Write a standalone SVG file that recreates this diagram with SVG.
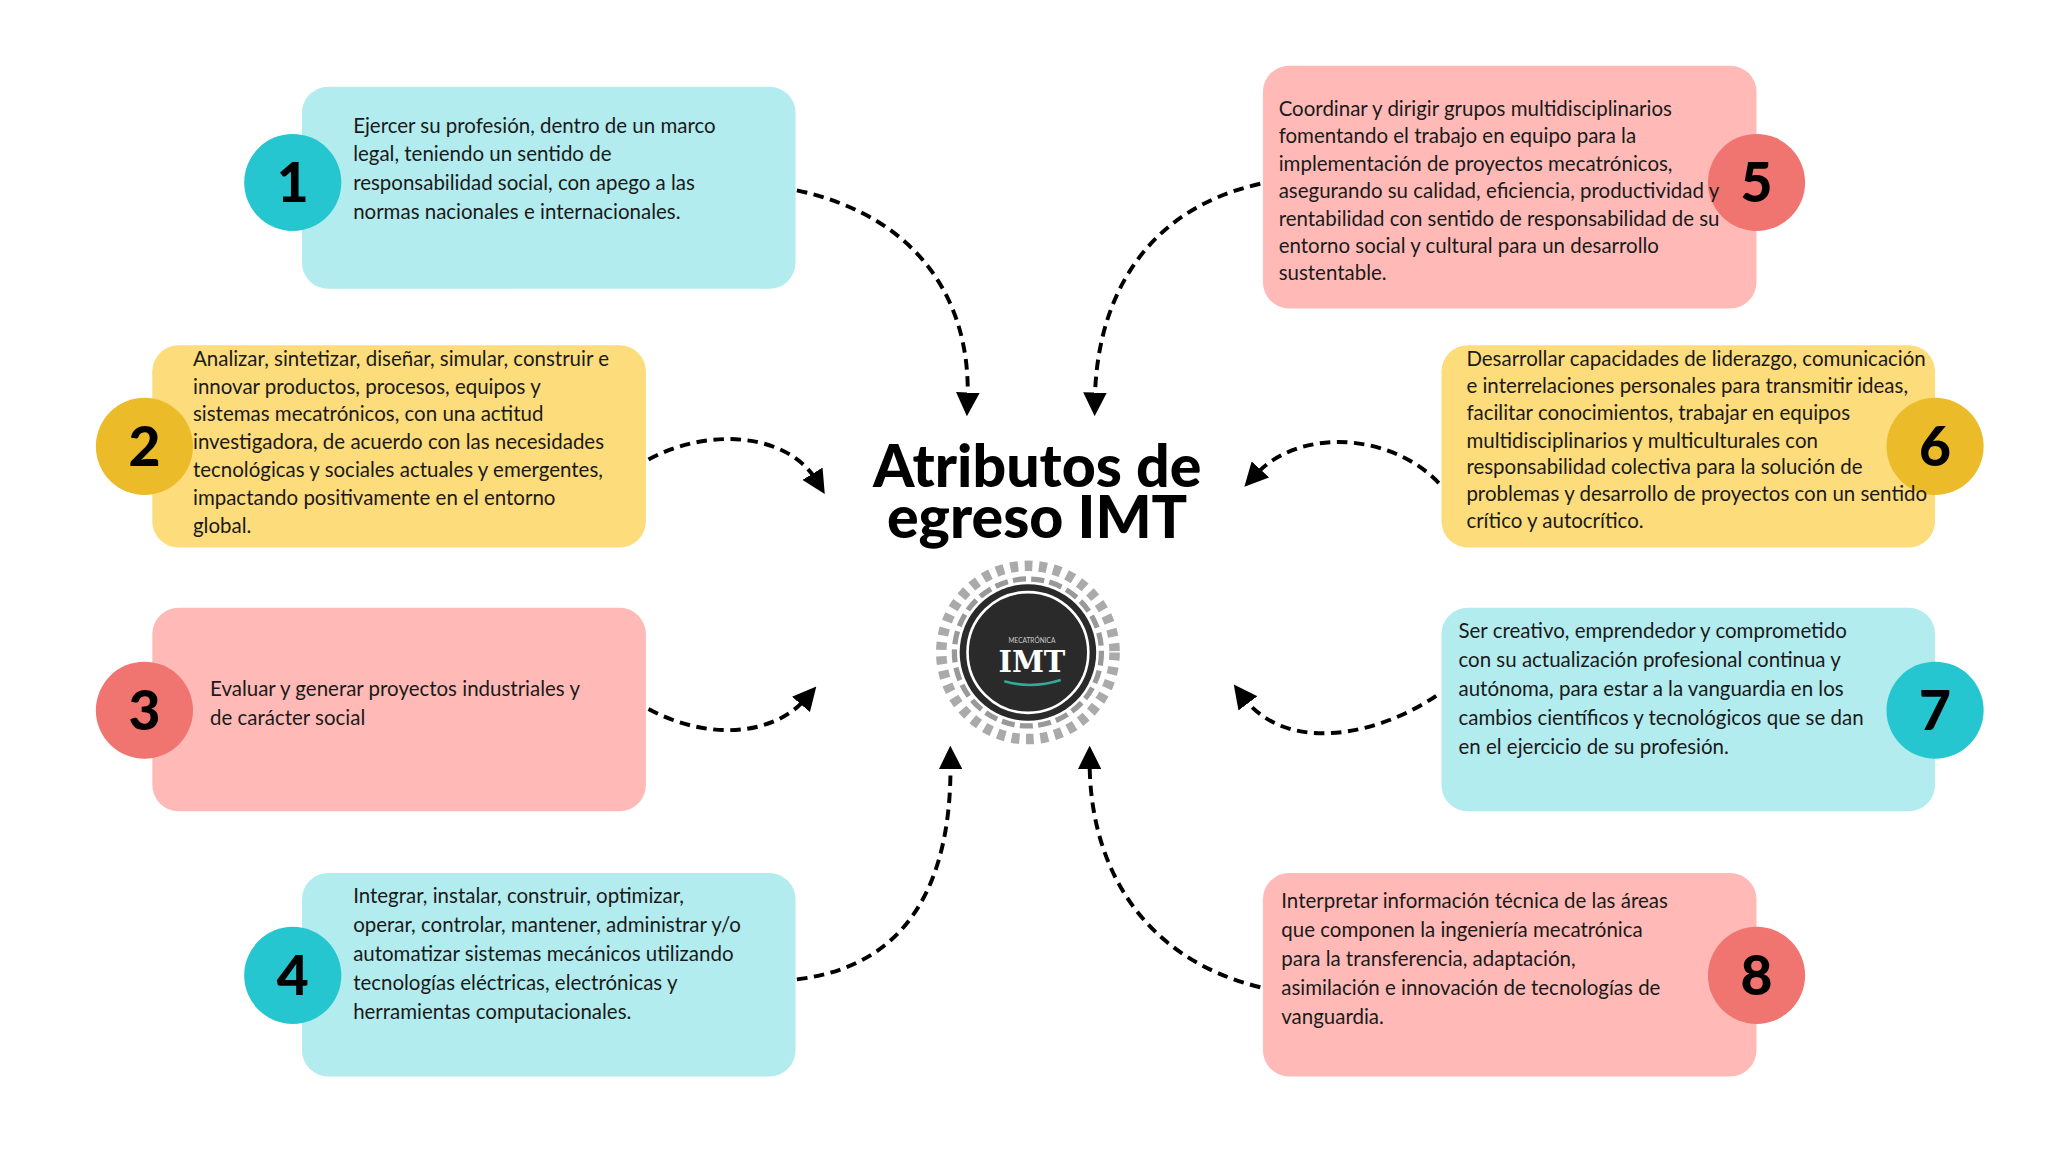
<svg xmlns="http://www.w3.org/2000/svg" width="2048" height="1152" viewBox="0 0 2048 1152">
<style>
.t{font-family:Lato,"Noto Sans",sans-serif;font-size:15.6px;fill:#1a1a1a}
.n{font-family:Lato,"Noto Sans",sans-serif;font-size:42px;font-weight:900;fill:#000;text-anchor:middle}
.h{font-family:Lato,"Noto Sans",sans-serif;font-size:45px;font-weight:900;fill:#000;text-anchor:middle}
.c{fill:#b2ecee}.y{fill:#fddc7c}.p{fill:#ffbab7}
.cc{fill:#26c6d0}.cy{fill:#ecbb2a}.cp{fill:#f07570}
.a{fill:none;stroke:#000;stroke-width:3;stroke-dasharray:8 5;marker-end:url(#ah)}
</style>
<defs><marker id="ah" markerWidth="6" markerHeight="6" refX="2" refY="3" orient="auto" markerUnits="strokeWidth"><path d="M0,0 L6,3 L0,6 Z" fill="#000"/></marker></defs>
<rect width="2048" height="1152" fill="#fff"/>
<g transform="scale(1.3128)">
<g id="n1"><rect class="c" x="230" y="66" width="376" height="154" rx="20"/><circle class="cc" cx="223" cy="139" r="37"/><text class="n" x="223" y="154">1</text>
<text class="t" x="269"><tspan x="269" y="101">Ejercer su profesión, dentro de un marco</tspan><tspan x="269" y="123">legal, teniendo un sentido de</tspan><tspan x="269" y="145">responsabilidad social, con apego a las</tspan><tspan x="269" y="167">normas nacionales e internacionales.</tspan></text></g>
<g id="n2"><rect class="y" x="116" y="263" width="376" height="154" rx="20"/><circle class="cy" cx="110" cy="340" r="37"/><text class="n" x="110" y="355">2</text>
<text class="t"><tspan x="147" y="279">Analizar, sintetizar, diseñar, simular, construir e</tspan><tspan x="147" y="300">innovar productos, procesos, equipos y</tspan><tspan x="147" y="321">sistemas mecatrónicos, con una actitud</tspan><tspan x="147" y="342">investigadora, de acuerdo con las necesidades</tspan><tspan x="147" y="363">tecnológicas y sociales actuales y emergentes,</tspan><tspan x="147" y="385">impactando positivamente en el entorno</tspan><tspan x="147" y="406">global.</tspan></text></g>
<g id="n3"><rect class="p" x="116" y="463" width="376" height="155" rx="20"/><circle class="cp" cx="110" cy="541" r="37"/><text class="n" x="110" y="556">3</text>
<text class="t"><tspan x="160" y="530">Evaluar y generar proyectos industriales y</tspan><tspan x="160" y="552">de carácter social</tspan></text></g>
<g id="n4"><rect class="c" x="230" y="665" width="376" height="155" rx="20"/><circle class="cc" cx="223" cy="743" r="37"/><text class="n" x="223" y="758">4</text>
<text class="t"><tspan x="269" y="688">Integrar, instalar, construir, optimizar,</tspan><tspan x="269" y="710">operar, controlar, mantener, administrar y/o</tspan><tspan x="269" y="732">automatizar sistemas mecánicos utilizando</tspan><tspan x="269" y="754">tecnologías eléctricas, electrónicas y</tspan><tspan x="269" y="776">herramientas computacionales.</tspan></text></g>
<g id="n5"><rect class="p" x="962" y="50" width="376" height="185" rx="20"/><circle class="cp" cx="1338" cy="139" r="37"/><text class="n" x="1338" y="154">5</text>
<text class="t"><tspan x="974" y="88">Coordinar y dirigir grupos multidisciplinarios</tspan><tspan x="974" y="109">fomentando el trabajo en equipo para la</tspan><tspan x="974" y="130">implementación de proyectos mecatrónicos,</tspan><tspan x="974" y="151">asegurando su calidad, eficiencia, productividad y</tspan><tspan x="974" y="172">rentabilidad con sentido de responsabilidad de su</tspan><tspan x="974" y="193">entorno social y cultural para un desarrollo</tspan><tspan x="974" y="213">sustentable.</tspan></text></g>
<g id="n6"><rect class="y" x="1098" y="263" width="376" height="154" rx="20"/><circle class="cy" cx="1474" cy="340" r="37"/><text class="n" x="1474" y="355">6</text>
<text class="t"><tspan x="1117" y="279">Desarrollar capacidades de liderazgo, comunicación</tspan><tspan x="1117" y="299">e interrelaciones personales para transmitir ideas,</tspan><tspan x="1117" y="320">facilitar conocimientos, trabajar en equipos</tspan><tspan x="1117" y="341">multidisciplinarios y multiculturales con</tspan><tspan x="1117" y="361">responsabilidad colectiva para la solución de</tspan><tspan x="1117" y="382">problemas y desarrollo de proyectos con un sentido</tspan><tspan x="1117" y="402">crítico y autocrítico.</tspan></text></g>
<g id="n7"><rect class="c" x="1098" y="463" width="376" height="155" rx="20"/><circle class="cc" cx="1474" cy="541" r="37"/><text class="n" x="1474" y="556">7</text>
<text class="t"><tspan x="1111" y="486">Ser creativo, emprendedor y comprometido</tspan><tspan x="1111" y="508">con su actualización profesional continua y</tspan><tspan x="1111" y="530">autónoma, para estar a la vanguardia en los</tspan><tspan x="1111" y="552">cambios científicos y tecnológicos que se dan</tspan><tspan x="1111" y="574">en el ejercicio de su profesión.</tspan></text></g>
<g id="n8"><rect class="p" x="962" y="665" width="376" height="155" rx="20"/><circle class="cp" cx="1338" cy="743" r="37"/><text class="n" x="1338" y="758">8</text>
<text class="t"><tspan x="976" y="692">Interpretar información técnica de las áreas</tspan><tspan x="976" y="714">que componen la ingeniería mecatrónica</tspan><tspan x="976" y="736">para la transferencia, adaptación,</tspan><tspan x="976" y="758">asimilación e innovación de tecnologías de</tspan><tspan x="976" y="780">vanguardia.</tspan></text></g>
<g id="title"><text class="h" x="790" y="371">Atributos de</text><text class="h" x="790" y="410">egreso IMT</text></g>
<g id="logo">
<circle cx="783" cy="497" r="66" fill="none" stroke="#aaa" stroke-width="8" stroke-dasharray="6 5"/>
<circle cx="783" cy="497" r="56" fill="none" stroke="#999" stroke-width="4" stroke-dasharray="10 4"/>
<circle cx="783" cy="497" r="52" fill="#2a2a2a"/>
<circle cx="783" cy="497" r="46" fill="none" stroke="#fff" stroke-width="2"/>
<text x="786" y="512" font-family="'DejaVu Serif',serif" font-weight="bold" font-size="22" fill="#fff" text-anchor="middle">IMT</text>
<text x="786" y="490" font-family="Lato,sans-serif" font-size="5" fill="#ccc" text-anchor="middle">MECATRÓNICA</text>
<path d="M765,519 Q786,525 808,518" stroke="#3a9" stroke-width="2" fill="none"/>
</g>
<g id="connectors">
<path class="a" d="M607,145 C700,165 740,230 737,305"/>
<path class="a" d="M960,140 C870,160 835,230 834,305"/>
<path class="a" d="M494,350 C540,325 600,330 622,366"/>
<path class="a" d="M1096,368 C1060,330 990,325 956,362"/>
<path class="a" d="M494,540 C540,565 590,560 614,532"/>
<path class="a" d="M1094,530 C1050,560 980,575 947,531"/>
<path class="a" d="M607,746 C700,735 725,660 724,580"/>
<path class="a" d="M960,752 C870,730 830,660 830,580"/>
</g>
</g>
</svg>
